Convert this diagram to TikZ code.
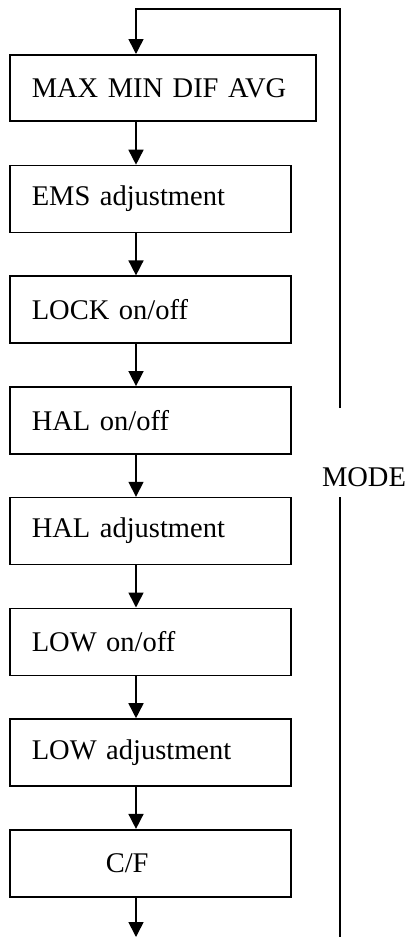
\documentclass[tikz,border=0pt]{standalone}
\usepackage{fontspec}
\setmainfont{Liberation Serif}
\usetikzlibrary{arrows.meta}

\tikzset{
	stepbox/.style={draw, line width=1.6pt, rectangle, anchor=north west,
		minimum height=67pt, text width=237pt, inner xsep=22pt, inner ysep=0pt,
		align=left, font=\fontsize{28.5}{34}\selectfont},
	flow/.style={line width=1.6pt, -{Triangle[width=15pt,length=15pt]}},
	plain/.style={line width=1.6pt}
}

\begin{document}
\begin{tikzpicture}[x=1pt,y=1pt]
		\useasboundingbox (0,0) rectangle (412,-937);
		% boxes
		\node[stepbox, text width=262pt, minimum height=66pt] (maxmin) at (9,-54) {MAX MIN DIF AVG};
		\node[stepbox] (ems) at (9,-164.7) {EMS adjustment};
		\node[stepbox] (lock) at (9,-275.4) {LOCK on/off};
		\node[stepbox] (halon) at (9,-386.1) {HAL on/off};
		\node[stepbox] (haladj) at (9,-496.8) {HAL adjustment};
		\node[stepbox] (lowon) at (9,-607.5) {LOW on/off};
		\node[stepbox] (lowadj) at (9,-718.2) {LOW adjustment};
		\node[stepbox] (cf) at (9,-828.9) {\hspace*{74pt}C/F};
		% column and loop points
		\coordinate (end) at (136,-937);
		\coordinate (loopbot) at (340,-937);
		\coordinate (loopmid) at (340,-497);
		\coordinate (looptop) at (340,-408);
		\coordinate (corner) at (340,-9);
		\node[font=\fontsize{28.5}{34}\selectfont, inner sep=0pt] (mode) at (364,-477) {MODE};
		% arrows
		\draw[flow] (maxmin.south -| end) -- (ems.north -| end);
		\draw[flow] (ems.south -| end) -- (lock.north -| end);
		\draw[flow] (lock.south -| end) -- (halon.north -| end);
		\draw[flow] (halon.south -| end) -- (haladj.north -| end);
		\draw[flow] (haladj.south -| end) -- (lowon.north -| end);
		\draw[flow] (lowon.south -| end) -- (lowadj.north -| end);
		\draw[flow] (lowadj.south -| end) -- (cf.north -| end);
		\draw[flow] (cf.south -| end) -- (end);
		% MODE loop
		\draw[plain] (loopbot) -- (loopmid);
		\draw[flow] (looptop) -- (corner) -| (maxmin.north -| end);
	\end{tikzpicture}
\end{document}
